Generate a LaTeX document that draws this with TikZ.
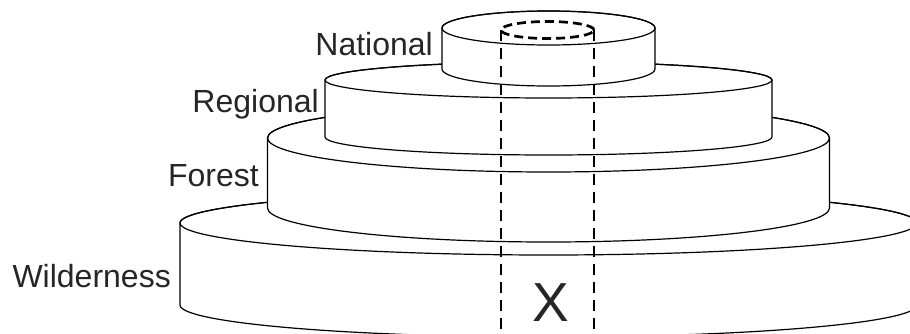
\documentclass[tikz,border=0pt]{standalone}
\usepackage{fontspec}
\setmainfont{Liberation Sans}
\usepackage{tikz}
\usetikzlibrary{positioning}

\begin{document}
\begin{tikzpicture}[x=1pt,y=1pt, disk/.style={draw=black,fill=white,line width=1.2pt,line join=round}, rim/.style={draw=black,line width=1.2pt}, core/.style={draw=black,line width=2.7pt,dash pattern=on 10.5pt off 7.5pt}, tier/.style={anchor=base east,inner sep=0pt,text=black!85,font=\fontsize{32}{36}\selectfont}]

  \useasboundingbox (0,0) rectangle (910,333);
  \clip (0,0) rectangle (910,333);

  % the four tiers, lowest first
  \foreach \rx/\ytop/\ybot/\ry in {368.5/110/28/32, 281/195/125/34, 223.5/253/196/18, 106.5/305/264/17}{
    \filldraw[disk] (548.5-\rx,\ytop) -- (548.5-\rx,\ybot)
      arc[start angle=180,end angle=360,x radius=\rx,y radius=\ry]
      -- (548.5+\rx,\ytop)
      arc[start angle=0,end angle=180,x radius=\rx,y radius=\ry] -- cycle;
    \draw[rim] (548.5,\ytop) ellipse[x radius=\rx,y radius=\ry];
  }

  % the core through all tiers
  \draw[core,dash pattern=on 9pt off 5pt] (547.5,303) ellipse[x radius=46.5,y radius=8.5];
  \draw[core] (501,303) -- (501,0);
  \draw[core] (594,303) -- (594,0);

  \node[tier] (nat) at (433,278) {National};
  \node[tier] (reg) at (319,221) {Regional};
  \node[tier] (forest) at (259,147) {Forest};
  \node[tier] (wild) at (171,46) {Wilderness};
  \node[anchor=base,inner sep=0pt,text=black!85,font=\fontsize{55}{60}\selectfont] (x) at (550.5,12) {X};
\end{tikzpicture}
\end{document}
